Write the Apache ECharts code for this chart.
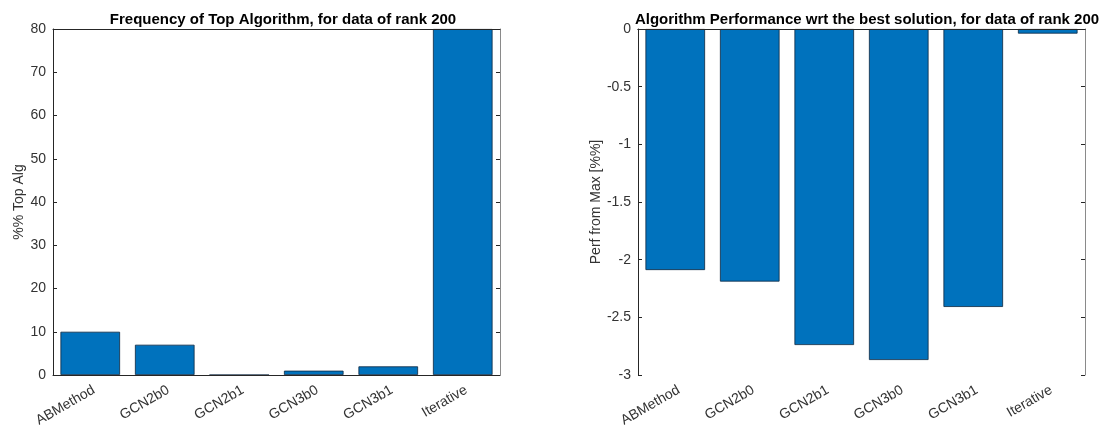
<!DOCTYPE html>
<html>
<head>
<meta charset="utf-8">
<script src="https://cdn.jsdelivr.net/npm/echarts@6/dist/echarts.min.js"></script>
<style>html,body{margin:0;padding:0;background:#fff}#c{width:1099px;height:426px}</style>
</head>
<body>
<div id="c"></div>
<script>
const categories = ['ABMethod', 'GCN2b0', 'GCN2b1', 'GCN3b0', 'GCN3b1', 'Iterative'];
const freqValues = [10, 7, 0, 1, 2, 80];
const perfValues = [-2.09, -2.19, -2.74, -2.87, -2.41, -0.04];
const freqTicks = { min: 0, max: 80, interval: 10 };
const perfTicks = { min: -3, max: 0, interval: 0.5 };
const leftTitle = 'Frequency of Top Algorithm, for data of rank 200';
const rightTitle = 'Algorithm Performance wrt the best solution, for data of rank 200';

const FONT = 'Liberation Sans, Arial, Helvetica, sans-serif';
const AX = '#262626';
const TXT = '#333333';
const BAR = '#0072BD';

function xAxes(gridIndex) {
  return [{
    type: 'category', gridIndex, data: categories, position: 'bottom', z: 5,
    axisLine: { lineStyle: { color: AX, width: 1 } },
    axisTick: { inside: true, alignWithLabel: true, length: 4, lineStyle: { color: AX } },
    axisLabel: { rotate: 30, color: TXT, fontFamily: FONT, fontSize: 14, margin: 8,
                 align: 'right', verticalAlign: 'top' },
    splitLine: { show: false }
  }, {
    type: 'category', gridIndex, data: categories, position: 'top', z: 5,
    axisLine: { onZero: false, lineStyle: { color: AX, width: 1 } },
    axisTick: { inside: true, alignWithLabel: true, length: 4, lineStyle: { color: AX } },
    axisLabel: { show: false }, splitLine: { show: false }
  }];
}
function yAxes(gridIndex, t, name, gap) {
  return [{
    type: 'value', gridIndex, min: t.min, max: t.max, interval: t.interval, position: 'left', z: 5,
    name, nameLocation: 'middle', nameGap: gap, nameRotate: 90,
    nameTextStyle: { color: TXT, fontFamily: FONT, fontSize: 14 },
    axisLine: { show: true, onZero: false, lineStyle: { color: AX, width: 1 } },
    axisTick: { show: true, inside: true, length: 4, lineStyle: { color: AX } },
    axisLabel: { color: TXT, fontFamily: FONT, fontSize: 14, margin: 7 },
    splitLine: { show: false }
  }, {
    type: 'value', gridIndex, min: t.min, max: t.max, interval: t.interval, position: 'right', z: 5,
    axisLine: { show: true, onZero: false, lineStyle: { color: '#8a8a8a', width: 1 } },
    axisTick: { show: true, inside: true, length: 4, lineStyle: { color: AX } },
    axisLabel: { show: false }, splitLine: { show: false }
  }];
}

const chart = echarts.init(document.getElementById('c'), null, { renderer: 'canvas' });
chart.setOption({
  animation: false,
  backgroundColor: '#fff',
  title: [
    { text: leftTitle, left: 278, textAlign: 'center', top: 7,
      textStyle: { fontFamily: FONT, fontSize: 15, fontWeight: 'bold', color: '#000' } },
    { text: rightTitle, left: 862, textAlign: 'center', top: 7,
      textStyle: { fontFamily: FONT, fontSize: 15, fontWeight: 'bold', color: '#000' } }
  ],
  grid: [
    { left: 53, right: 599, top: 29, bottom: 51, containLabel: false, outerBoundsMode: 'none' },
    { left: 638, right: 14, top: 29, bottom: 51, containLabel: false, outerBoundsMode: 'none' }
  ],
  xAxis: [...xAxes(0), ...xAxes(1)],
  yAxis: [...yAxes(0, freqTicks, '%% Top Alg', 27), ...yAxes(1, perfTicks, 'Perf from Max [%%]', 33)],
  series: [
    { type: 'bar', xAxisIndex: 0, yAxisIndex: 0, data: freqValues, barWidth: '80%',
      itemStyle: { color: BAR, borderColor: '#0d2740', borderWidth: 0.8 } },
    { type: 'bar', xAxisIndex: 2, yAxisIndex: 2, data: perfValues, barWidth: '80%',
      itemStyle: { color: BAR, borderColor: '#0d2740', borderWidth: 0.8 } }
  ]
});
</script>
</body>
</html>
